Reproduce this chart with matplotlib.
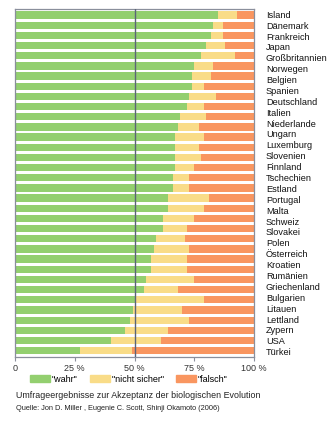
import matplotlib
matplotlib.use('Agg')
import matplotlib.pyplot as plt
import numpy as np
from matplotlib.patches import Patch

plt.rcParams['font.family'] = ['Liberation Sans', 'DejaVu Sans']

# Umfragewerte in Prozent (34 Balken, von oben nach unten)
wahr = [85, 83, 82, 80, 78, 75, 74, 74, 73, 72, 69, 68, 67, 67, 67, 67, 66,
        66, 64, 64, 62, 62, 59, 58, 57, 57, 55, 54, 50, 49.5, 48, 46, 40, 27]
nicht_sicher = [8, 4, 5, 8, 14, 8, 8, 5, 11, 7, 11, 9, 12, 10, 11, 8, 7,
                7, 17, 15, 13, 10, 12, 15, 15, 15, 20, 14, 29, 20.5, 25, 18, 21, 22]
falsch = [7, 13, 13, 12, 8, 17, 18, 21, 16, 21, 20, 23, 21, 23, 22, 25, 27,
          27, 19, 21, 25, 28, 29, 27, 28, 28, 25, 32, 21, 30, 27, 36, 39, 51]

laender = ['Island', 'Dänemark', 'Frankreich', 'Japan', 'Großbritannien',
           'Norwegen', 'Belgien', 'Spanien', 'Deutschland', 'Italien',
           'Niederlande', 'Ungarn', 'Luxemburg', 'Slovenien', 'Finnland',
           'Tschechien', 'Estland', 'Portugal', 'Malta', 'Schweiz', 'Slovakei',
           'Polen', 'Österreich', 'Kroatien', 'Rumänien', 'Griechenland',
           'Bulgarien', 'Litauen', 'Lettland', 'Zypern', 'USA', 'Türkei']

x_ticks = [0, 25, 50, 75, 100]
x_labels = ['0', '25 %', '50 %', '75 %', '100 %']
legende = ['"wahr"', '"nicht sicher"', '"falsch"']

gruen = '#93cf6f'
gelb = '#f9dc88'
orange = '#f99660'
rahmen = '#8a8f9c'

fig = plt.figure(figsize=(3.3, 4.25), dpi=100)
ax = fig.add_axes([0.0455, 0.16, 0.7243, 0.818])

y = np.arange(len(wahr))
w = np.array(wahr)
n = np.array(nicht_sicher)
f = np.array(falsch)
h = 0.72
ax.barh(y, w, height=h, color=gruen, linewidth=0)
ax.barh(y, n, left=w, height=h, color=gelb, linewidth=0)
ax.barh(y, f, left=w + n, height=h, color=orange, linewidth=0)

# 50-%-Linie über den Balken
ax.axvline(50, color='#5b6478', linewidth=1.0, zorder=5)

ax.set_xlim(0, 100)
ax.set_ylim(33.62, -0.56)
ax.set_xticks(x_ticks)
ax.set_xticklabels(x_labels, fontsize=6.5, color='#333333')
ax.tick_params(axis='x', length=3, width=0.8, color=rahmen, pad=2)
ax.set_yticks([])
for s in ax.spines.values():
    s.set_color(rahmen)
    s.set_linewidth(0.9)

# Ländernamen rechts neben dem Diagramm
label_pos = np.linspace(0.02, 33.2, len(laender))
for name, yy in zip(laender, label_pos):
    ax.text(1.05, yy, name, transform=ax.get_yaxis_transform(),
            fontsize=6.6, va='center', ha='left', color='#111111')

handles = [Patch(color=gruen), Patch(color=gelb), Patch(color=orange)]
fig.legend(handles, legende, ncol=3, frameon=False, fontsize=6.5,
           loc='center', bbox_to_anchor=(0.39, 1 - 379 / 425),
           handlelength=2.2, handleheight=0.75, handletextpad=0.2,
           columnspacing=1.4)

fig.text(16.5 / 330, 1 - 395 / 425,
         'Umfrageergebnisse zur Akzeptanz der biologischen Evolution',
         fontsize=6.4, va='center', ha='left', color='#222222')
fig.text(16.5 / 330, 1 - 409 / 425,
         'Quelle: Jon D. Miller , Eugenie C. Scott, Shinji Okamoto (2006)',
         fontsize=5.3, va='center', ha='left', color='#222222')

fig.savefig('out.png', dpi=100)
